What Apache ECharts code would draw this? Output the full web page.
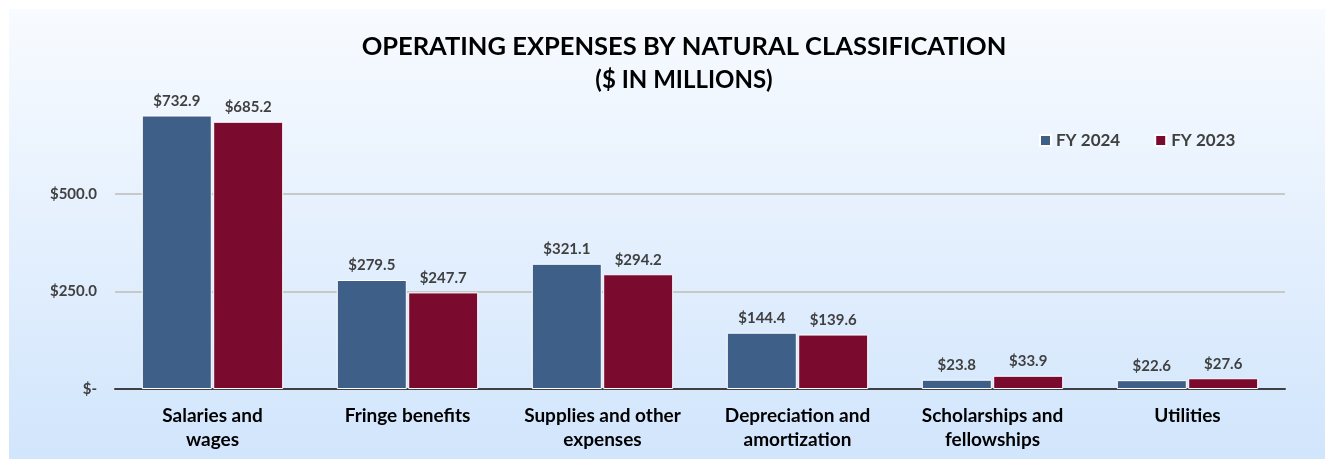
<!DOCTYPE html>
<html>
<head>
<meta charset="utf-8">
<script src="https://cdn.jsdelivr.net/npm/echarts@6/dist/echarts.min.js"></script>
<style>
  html, body { margin: 0; padding: 0; background: #fff; }
  #chart { width: 1325px; height: 459px; }
</style>
</head>
<body>
<div id="chart"></div>
<script>
const categories = [
  'Salaries and\nwages',
  'Fringe benefits',
  'Supplies and other\nexpenses',
  'Depreciation and\namortization',
  'Scholarships and\nfellowships',
  'Utilities'
];
const fy2024 = [732.9, 279.5, 321.1, 144.4, 23.8, 22.6];
const fy2023 = [685.2, 247.7, 294.2, 139.6, 33.9, 27.6];

const chart = echarts.init(document.getElementById('chart'));
const font = 'Lato, "Open Sans", sans-serif';

const barLabel = {
  show: true,
  position: 'top',
  distance: 7,
  fontFamily: font,
  fontWeight: 'bold',
  fontSize: 15,
  color: '#404040',
  formatter: p => '$' + p.value.toFixed(1)
};

chart.setOption({
  animation: false,
  graphic: [{
    type: 'rect',
    left: 9, top: 9, z: -10,
    shape: { width: 1316, height: 450 },
    style: {
      fill: new echarts.graphic.LinearGradient(0, 0, 0, 1, [
        { offset: 0, color: '#f8fbff' },
        { offset: 1, color: '#d1e5fc' }
      ])
    }
  }],
  title: {
    text: 'OPERATING EXPENSES BY NATURAL CLASSIFICATION',
    subtext: '($ IN MILLIONS)',
    left: 679,
    textAlign: 'center',
    top: 29,
    itemGap: 8,
    textStyle: { fontFamily: font, fontWeight: 'bold', fontSize: 25.5, color: '#000' },
    subtextStyle: { fontFamily: font, fontWeight: 'bold', fontSize: 24, color: '#000' }
  },
  legend: {
    data: ['FY 2024', 'FY 2023'],
    left: 1034,
    top: 127,
    icon: 'rect',
    itemWidth: 11,
    itemHeight: 11,
    itemGap: 34,
    textStyle: { fontFamily: font, fontWeight: 'bold', fontSize: 17, color: '#404040' }
  },
  grid: { left: 115, right: 40, top: 116, bottom: 70 },
  xAxis: {
    type: 'category',
    data: categories,
    axisLine: { lineStyle: { color: '#404040', width: 2 } },
    axisTick: { show: false },
    axisLabel: {
      interval: 0,
      margin: 15,
      fontFamily: font,
      fontWeight: 'bold',
      fontSize: 19,
      lineHeight: 24,
      color: '#000'
    }
  },
  yAxis: {
    type: 'value',
    min: 0,
    max: 700,
    interval: 250,
    axisLine: { show: false },
    axisTick: { show: false },
    splitLine: { showMaxLine: false, lineStyle: { color: '#c8c8c8', width: 2 } },
    axisLabel: {
      showMaxLabel: false,
      margin: 18,
      fontFamily: font,
      fontWeight: 'bold',
      fontSize: 15,
      color: '#404040',
      formatter: v => v === 0 ? '$-' : '$' + v.toFixed(1)
    }
  },
  series: [
    {
      name: 'FY 2024',
      type: 'bar',
      data: fy2024,
      barWidth: 70,
      barGap: '2%',
      clip: true,
      itemStyle: { color: '#3e5f88', borderColor: '#ffffff', borderWidth: 1 },
      label: barLabel
    },
    {
      name: 'FY 2023',
      type: 'bar',
      data: fy2023,
      barWidth: 70,
      clip: true,
      itemStyle: { color: '#7a0b2e', borderColor: '#ffffff', borderWidth: 1 },
      label: barLabel
    }
  ]
});
</script>
</body>
</html>
